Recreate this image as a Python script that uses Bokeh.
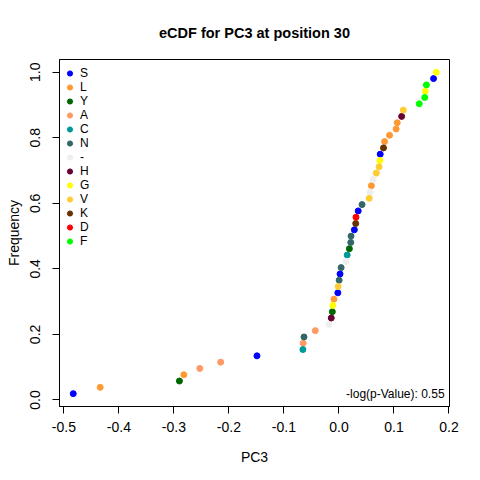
from bokeh.plotting import figure
from bokeh.models import Range1d, FixedTicker, Label
from bokeh.embed import file_html
from bokeh.resources import INLINE

# ---- data ----
pc3 = [-0.483, -0.434, -0.290, -0.282, -0.253, -0.215, -0.149, -0.0655, -0.065, -0.0635,
       -0.043, -0.018, -0.014, -0.012, -0.011, -0.009, -0.002, -0.0015, 0.0004, 0.002,
       0.004, 0.013, 0.015, 0.019, 0.0215, 0.022, 0.028, 0.0305, 0.031, 0.035,
       0.042, 0.055, 0.057, 0.059, 0.062, 0.068, 0.073, 0.0745, 0.075, 0.081,
       0.083, 0.092, 0.104, 0.106, 0.114, 0.117, 0.146, 0.156, 0.157, 0.159,
       0.172, 0.177]
residues = ["S", "L", "Y", "L", "A", "A", "S", "C", "A", "N",
            "A", "-", "H", "Y", "G", "L", "S", "V", "N", "S",
            "N", "-", "C", "Y", "N", "N", "S", "K", "D", "S",
            "N", "V", "-", "L", "-", "V", "V", "G", "S", "K",
            "L", "L", "L", "L", "H", "V", "F", "F", "G", "F",
            "S", "G"]
legend_order = ["S", "L", "Y", "A", "C", "N", "-", "H", "G", "V", "K", "D", "F"]
legend_colors = ["#0000FF", "#FF9933", "#006600", "#FF9966", "#009999", "#336666", "#EEEEEE",
                 "#660033", "#FFFF00", "#FFCC33", "#663300", "#FF0000", "#00FF00"]
xticks = [-0.5, -0.4, -0.3, -0.2, -0.1, 0.0, 0.1, 0.2]
xtick_labels = ["-0.5", "-0.4", "-0.3", "-0.2", "-0.1", "0.0", "0.1", "0.2"]
yticks = [0.0, 0.2, 0.4, 0.6, 0.8, 1.0]
ytick_labels = ["0.0", "0.2", "0.4", "0.6", "0.8", "1.0"]
pvalue_text = "-log(p-Value): 0.55"

# empirical CDF: frequency = rank / n
n = len(pc3)
order = sorted(range(n), key=lambda i: pc3[i])
freq = [0.0] * n
for rank, i in enumerate(order):
    freq[i] = (rank + 1) / n

FONT = "Liberation Sans"

p = figure(width=480, height=480, output_backend="svg", toolbar_location=None,
           x_range=Range1d(-0.508, 0.201), y_range=Range1d(-0.02, 1.039),
           min_border_left=59, min_border_right=31, min_border_top=59, min_border_bottom=74,
           title="eCDF for PC3 at position 30", background_fill_color="white",
           border_fill_color="white")

p.title.align = "center"
p.title.text_font = FONT
p.title.text_font_size = "14.5px"
p.title.text_font_style = "bold"
p.title.text_color = "black"
p.title.standoff = 38

p.xgrid.visible = False
p.ygrid.visible = False
p.outline_line_color = "black"
p.outline_line_width = 1

for ax in (p.xaxis[0], p.yaxis[0]):
    ax.axis_line_color = "black"
    ax.major_tick_line_color = "black"
    ax.minor_tick_line_color = None
    ax.major_tick_in = 0
    ax.major_tick_out = 7
    ax.major_label_text_font = FONT
    ax.major_label_text_font_size = "14px"
    ax.major_label_text_color = "black"
    ax.axis_label_text_font = FONT
    ax.axis_label_text_font_size = "14px"
    ax.axis_label_text_font_style = "normal"
    ax.axis_label_text_color = "black"

p.xaxis.ticker = FixedTicker(ticks=xticks)
p.xaxis.major_label_overrides = dict(zip(xticks, xtick_labels))
p.xaxis.axis_label = "PC3"
p.xaxis.major_label_standoff = 8
p.xaxis.axis_label_standoff = 14

p.yaxis.ticker = FixedTicker(ticks=yticks)
p.yaxis.major_label_overrides = dict(zip(yticks, ytick_labels))
p.yaxis.major_label_orientation = "vertical"
p.yaxis.axis_label = "Frequency"
p.yaxis.major_label_standoff = 12
p.yaxis.axis_label_standoff = 6

for res, col in zip(legend_order, legend_colors):
    xs = [x for x, r in zip(pc3, residues) if r == res]
    ys = [y for y, r in zip(freq, residues) if r == res]
    p.scatter(xs, ys, size=6, color=col, legend_label=res)

lg = p.legend[0]
lg.location = (4, 158)
lg.padding = 0
lg.margin = 0
lg.spacing = 0
lg.glyph_width = 13
lg.glyph_height = 14
lg.label_height = 14
lg.label_standoff = 4
lg.label_text_font = FONT
lg.label_text_font_size = "12px"
lg.label_text_color = "black"
lg.border_line_color = None
lg.background_fill_alpha = 0

p.add_layout(Label(x=0.192, y=0.017, text=pvalue_text, text_align="right",
                   text_baseline="middle", text_font=FONT, text_font_size="12px",
                   text_color="black"))

open("out.html", "w").write(file_html(p, INLINE))
